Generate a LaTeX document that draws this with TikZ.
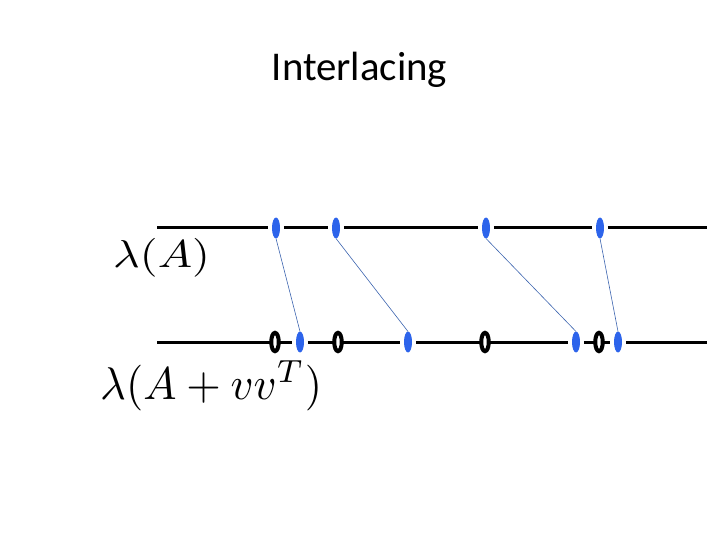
\documentclass[tikz,border=0pt]{standalone}
\usepackage{graphicx}
\usepackage{fontspec}
\newfontfamily\titlefont{Carlito}
\usetikzlibrary{shapes.geometric}
\definecolor{dotblue}{RGB}{45,100,235}
\definecolor{linkblue}{RGB}{60,100,175}
\tikzset{
  axisline/.style={line width=3bp, black},
  bdot/.style={ellipse, fill=dotblue, draw=none, inner sep=0pt,
    minimum width=8bp, minimum height=21bp, outer xsep=3.8bp, outer ysep=0pt},
  odot/.style={ellipse, draw=black, fill=white, line width=4bp, inner sep=0pt,
    minimum width=7.5bp, minimum height=18.5bp, outer sep=0pt},
  link/.style={linkblue, line width=0.6bp},
}
\begin{document}
\begin{tikzpicture}[x=1bp,y=-1bp]
\useasboundingbox (0,0) rectangle (720,540);
\node[font=\titlefont\fontsize{41}{48}\selectfont, anchor=base] (title) at (359.5,81) {Interlacing};
% top line
\coordinate (ts) at (157,228);
\coordinate (te) at (707,228);
\node[bdot] (t1) at (276,228) {};
\node[bdot] (t2) at (336,228) {};
\node[bdot] (t3) at (486,228) {};
\node[bdot] (t4) at (600,228) {};
\draw[axisline] (ts) -- (t1) (t1) -- (t2) (t2) -- (t3) (t3) -- (t4) (t4) -- (te);
% bottom line
\coordinate (bs) at (157,342);
\coordinate (be) at (707,342);
\node[odot] (o1) at (275,342) {};
\node[bdot] (b1) at (300,342) {};
\node[odot] (o2) at (338,342) {};
\node[bdot] (b2) at (408,342) {};
\node[odot] (o3) at (485,342) {};
\node[bdot] (b3) at (576,342) {};
\node[odot] (o4) at (599,342) {};
\node[bdot] (b4) at (618,342) {};
\draw[axisline] (bs) -- (o1) (o1) -- (b1) (b1) -- (o2) (o2) -- (b2) (b2) -- (o3)
  (o3) -- (b3) (b3) -- (o4) (o4) -- (b4) (b4) -- (be);
% links
\draw[link] (t1.south) -- (b1.north);
\draw[link] (t2.south) -- (b2.north);
\draw[link] (t3.south) -- (b3.north);
\draw[link] (t4.south) -- (b4.north);
% labels
\node[anchor=base west, inner sep=0pt] (la) at (113,268) {\scalebox{4.6}[3.9]{$\lambda(A)$}};
\node[anchor=base west, inner sep=0pt] (lb) at (100,399) {\scalebox{4.45}[4.6]{$\lambda(A+vv^T)$}};
\end{tikzpicture}
\end{document}
